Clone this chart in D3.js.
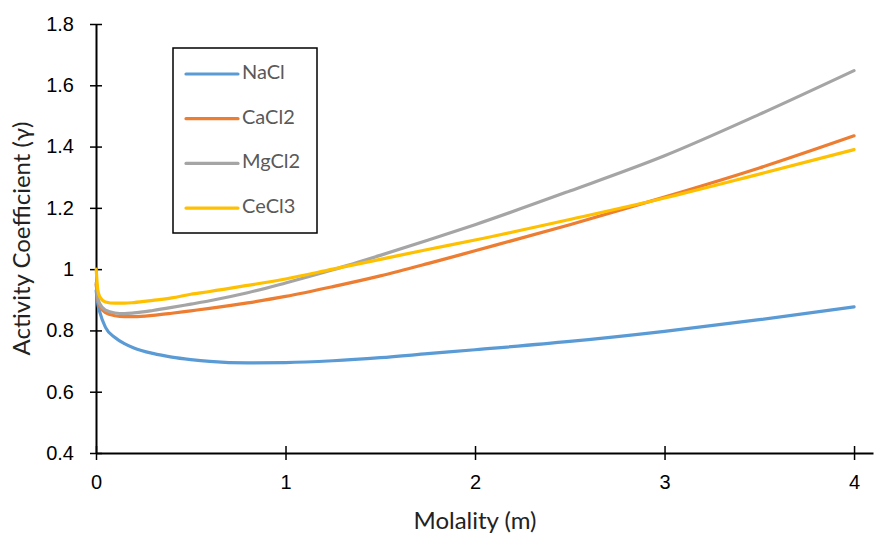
<!DOCTYPE html>
<html lang="en">
  <head>
    <meta charset="UTF-8" />
    <title>Activity Coefficient vs Molality</title>
    <script src="https://d3js.org/d3.v7.min.js"></script>
    <style>
      body {
        margin: 0;
        padding: 0;
        background: #fff;
        font-family: Lato, "Noto Sans", sans-serif;
      }
      .tick-label {
        font-size: 20px;
        fill: #000;
      }
      .axis-title {
        font-size: 24px;
        fill: #222;
      }
      .legend-text {
        font-size: 20px;
        fill: #595959;
      }
      .series {
        fill: none;
        stroke-width: 3.2;
        stroke-linecap: round;
        stroke-linejoin: round;
      }
    </style>
  </head>
  <body>
    <div id="chart"></div>

    <script>
      const molality = [0.001, 0.01, 0.02, 0.05, 0.1, 0.15, 0.2, 0.3, 0.4, 0.5, 0.6, 0.8, 1, 1.25, 1.5, 1.75, 2, 2.5, 3, 3.5, 4];
      const nacl = [0.93, 0.885, 0.86, 0.81, 0.777, 0.757, 0.743, 0.725, 0.713, 0.705, 0.699, 0.694, 0.695, 0.701, 0.711, 0.724, 0.737, 0.764, 0.797, 0.835, 0.877];
      const cacl2 = [0.95, 0.9, 0.88, 0.858, 0.848, 0.845, 0.845, 0.849, 0.856, 0.864, 0.872, 0.89, 0.911, 0.943, 0.978, 1.018, 1.06, 1.145, 1.235, 1.33, 1.435];
      const mgcl2 = [0.955, 0.905, 0.887, 0.866, 0.857, 0.855, 0.857, 0.865, 0.875, 0.886, 0.897, 0.923, 0.955, 0.998, 1.045, 1.094, 1.145, 1.255, 1.37, 1.505, 1.648];
      const cecl3 = [1.0, 0.93, 0.91, 0.893, 0.889, 0.889, 0.891, 0.898, 0.906, 0.918, 0.927, 0.947, 0.968, 1.0, 1.032, 1.064, 1.095, 1.162, 1.232, 1.31, 1.39];

      const seriesNames = ["NaCl", "CaCl2", "MgCl2", "CeCl3"];
      const seriesColors = ["#5B9BD5", "#ED7D31", "#A5A5A5", "#FFC000"];
      const seriesValues = [nacl, cacl2, mgcl2, cecl3];

      const xTicks = [0, 1, 2, 3, 4];
      const yTicks = [0.4, 0.6, 0.8, 1, 1.2, 1.4, 1.6, 1.8];

      const width = 881;
      const height = 536;

      const svg = d3
        .select("#chart")
        .append("svg")
        .attr("width", width)
        .attr("height", height);

      // plot area
      const x = d3.scaleLinear().domain([0, 4.1]).range([96, 873]);
      const y = d3.scaleLinear().domain([0.4, 1.8]).range([453, 24]);

      // y axis
      const yAxis = svg
        .append("g")
        .attr("transform", `translate(${x(0)},0)`)
        .call(
          d3.axisLeft(y)
            .tickValues(yTicks)
            .tickSize(6)
            .tickSizeOuter(0)
            .tickFormat(d3.format("~g"))
        );
      yAxis.select(".domain").attr("stroke", "#000").attr("stroke-width", 2);
      yAxis
        .selectAll(".tick line")
        .attr("x1", -6)
        .attr("x2", 6)
        .attr("stroke", "#000")
        .attr("stroke-width", 1.5);
      yAxis
        .selectAll(".tick text")
        .attr("class", "tick-label")
        .attr("x", -22)
        .attr("font-family", null)
        .attr("font-size", null);

      // x axis
      const xAxis = svg
        .append("g")
        .attr("transform", `translate(0,${y(0.4)})`)
        .call(
          d3.axisBottom(x)
            .tickValues(xTicks)
            .tickSize(6)
            .tickSizeOuter(0)
            .tickFormat(d3.format("d"))
        );
      xAxis.select(".domain").attr("stroke", "#000").attr("stroke-width", 2);
      xAxis
        .selectAll(".tick line")
        .attr("y1", -7)
        .attr("y2", 7)
        .attr("stroke", "#000")
        .attr("stroke-width", 1.5);
      xAxis
        .selectAll(".tick text")
        .attr("class", "tick-label")
        .attr("y", 22)
        .attr("font-family", null)
        .attr("font-size", null);

      // lines
      const line = d3
        .line()
        .x((d, i) => x(molality[i]))
        .y((d) => y(d))
        .curve(d3.curveMonotoneX);

      svg
        .selectAll("path.series")
        .data(seriesValues)
        .enter()
        .append("path")
        .attr("class", "series")
        .attr("stroke", (d, i) => seriesColors[i])
        .attr("d", line);

      // axis titles
      svg
        .append("text")
        .attr("class", "axis-title")
        .attr("x", 475)
        .attr("y", 523)
        .attr("text-anchor", "middle")
        .attr("dominant-baseline", "middle")
        .text("Molality (m)");

      svg
        .append("text")
        .attr("class", "axis-title")
        .attr("transform", `translate(24,${(y(0.4) + y(1.8)) / 2}) rotate(-90)`)
        .attr("text-anchor", "middle")
        .attr("dominant-baseline", "middle")
        .text("Activity Coefficient (γ)");

      // legend
      const legend = svg.append("g").attr("transform", "translate(173,48)");
      legend
        .append("rect")
        .attr("width", 144)
        .attr("height", 185)
        .attr("fill", "#fff")
        .attr("stroke", "#000")
        .attr("stroke-width", 1.5);

      const items = legend
        .selectAll("g.item")
        .data(seriesNames)
        .enter()
        .append("g")
        .attr("class", "item")
        .attr("transform", (d, i) => `translate(0,${26 + i * 44.7})`);

      items
        .append("line")
        .attr("x1", 13)
        .attr("x2", 65)
        .attr("stroke", (d, i) => seriesColors[i])
        .attr("stroke-width", 3.2)
        .attr("stroke-linecap", "round");

      items
        .append("text")
        .attr("class", "legend-text")
        .attr("x", 69)
        .attr("dominant-baseline", "middle")
        .text((d) => d);
    </script>
  </body>
</html>
